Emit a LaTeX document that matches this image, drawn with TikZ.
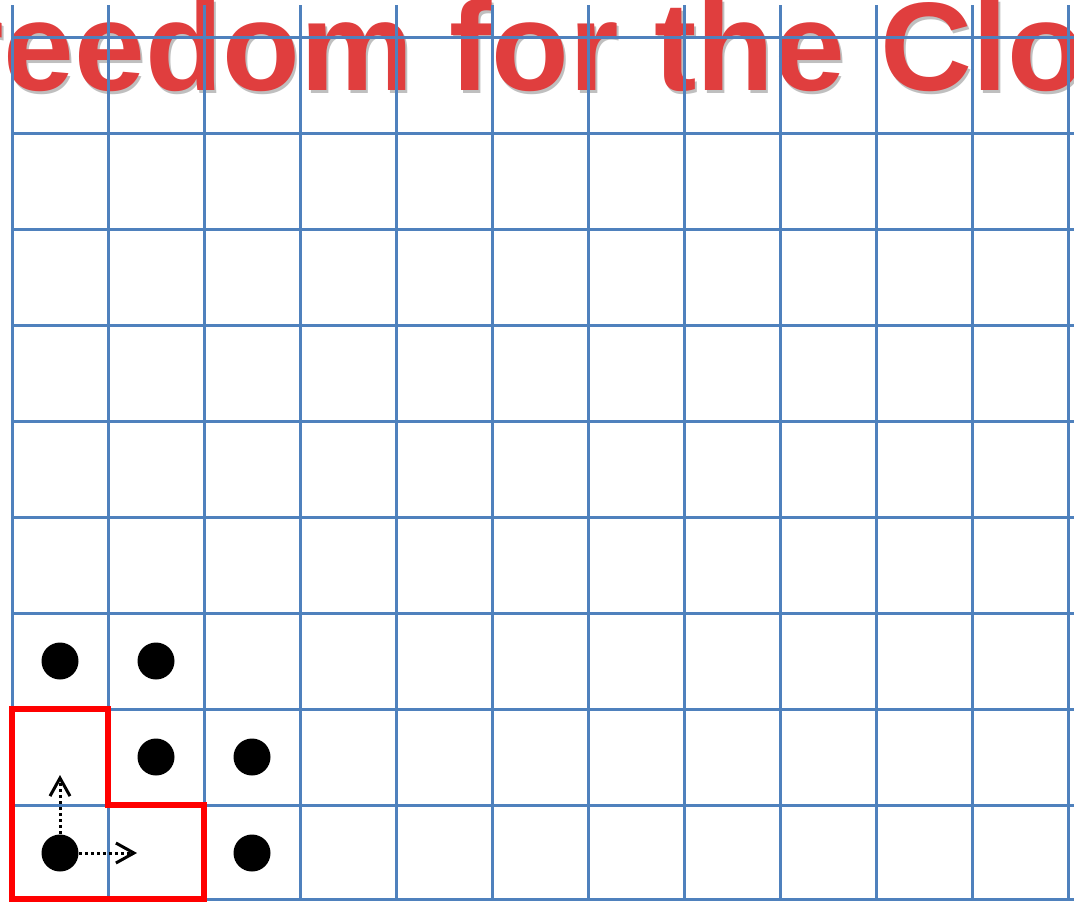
\documentclass[tikz,border=0pt]{standalone}
\usepackage{fontspec}
\setmainfont{Liberation Sans}
\usetikzlibrary{arrows.meta}
\definecolor{gridblue}{HTML}{4F81BD}
\definecolor{titlered}{RGB}{224,62,62}
\begin{document}
\begin{tikzpicture}[x=0.5pt,y=-0.5pt,
  dot/.style={circle, fill=black, minimum size=18.5pt, inner sep=0pt},
  flow/.style={-{Straight Barb[length=9pt, width=10pt]}, line width=1.5pt, dash pattern=on 1.5pt off 1.5pt},
  title/.style={anchor=base west, inner sep=0pt, xscale=1.01, font=\bfseries\fontsize{63pt}{63pt}\selectfont}]
\useasboundingbox (0,0) rectangle (1074,901);
\clip (0,0) rectangle (1074,901);
% title, cut off at both sides
\node[title, text=black!25] (shadow) at (-122,93) {Freedom for the Clones};
\node[title, text=titlered] (title) at (-124,90) {Freedom for the Clones};
% grid
\foreach \x in {12,108,...,1068}
  \draw[gridblue, line width=1.5pt] (\x,5) -- (\x,901);
\foreach \y in {37,133,...,805,899}
  \draw[gridblue, line width=1.5pt] (12,\y) -- (1074,\y);
% region
\draw[red, line width=3pt] (12,709) -- (108,709) -- (108,805) -- (204,805) -- (204,899) -- (12,899) -- cycle;
% dots
\node[dot] (a) at (60,661) {};
\node[dot] (b) at (156,661) {};
\node[dot] (c) at (156,757) {};
\node[dot] (d) at (252,757) {};
\node[dot] (p) at (60,853) {};
\node[dot] (e) at (252,853) {};
% moves
\coordinate (u) at (60,775);
\coordinate (r) at (137,853);
\draw[flow] (p) -- (u);
\draw[flow] (p) -- (r);
\end{tikzpicture}
\end{document}
